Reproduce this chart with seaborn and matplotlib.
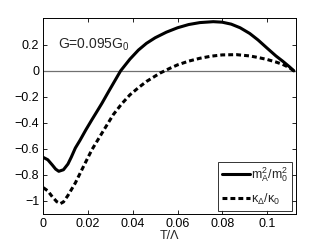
import numpy as np
import pandas as pd
import matplotlib
matplotlib.use("Agg")
import matplotlib.pyplot as plt
import seaborn as sns

# Data
t_solid = [0.000, 0.002, 0.004, 0.0055, 0.0069, 0.009, 0.011, 0.0125, 0.0143, 0.0164,
           0.0190, 0.0217, 0.0238, 0.0262, 0.0290, 0.03125, 0.03455, 0.0387, 0.0425,
           0.0461, 0.050, 0.055, 0.060, 0.065, 0.070, 0.076, 0.080, 0.084, 0.088,
           0.0923, 0.096, 0.100, 0.104, 0.107, 0.110, 0.112]
m_solid = [-0.667, -0.685, -0.725, -0.757, -0.774, -0.762, -0.718, -0.665, -0.595, -0.535,
           -0.455, -0.377, -0.318, -0.25, -0.165, -0.098, 0.0, 0.09, 0.16,
           0.212, 0.255, 0.298, 0.332, 0.357, 0.372, 0.379, 0.375, 0.36, 0.332,
           0.288, 0.238, 0.176, 0.115, 0.075, 0.032, 0.0]

t_dash = [0.000, 0.002, 0.004, 0.006, 0.0076, 0.009, 0.011, 0.0143, 0.018, 0.0217,
          0.0262, 0.03125, 0.035, 0.0387, 0.0425, 0.0461, 0.0521, 0.0566, 0.060,
          0.065, 0.070, 0.075, 0.080, 0.0863, 0.0923, 0.096, 0.100, 0.104, 0.107,
          0.110, 0.112]
k_dash = [-0.90, -0.925, -0.97, -1.008, -1.023, -1.01, -0.96, -0.864, -0.735, -0.608,
          -0.48, -0.338, -0.255, -0.185, -0.13, -0.082, -0.018, 0.02, 0.046,
          0.075, 0.097, 0.113, 0.123, 0.125, 0.115, 0.103, 0.088, 0.068, 0.05,
          0.025, 0.0]

labels = [r"$\mathregular{m_A^2/m_0^2}$", r"$\mathregular{\kappa_\Delta/\kappa_0}$"]
x_ticks = [0, 0.02, 0.04, 0.06, 0.08, 0.1]
x_ticklabels = ["0", "0.02", "0.04", "0.06", "0.08", "0.1"]
y_ticks = [-1, -0.8, -0.6, -0.4, -0.2, 0, 0.2]
y_ticklabels = ["\u22121", "\u22120.8", "\u22120.6", "\u22120.4", "\u22120.2", "0", "0.2"]

df = pd.concat([
    pd.DataFrame({"T": t_solid, "val": m_solid, "series": labels[0]}),
    pd.DataFrame({"T": t_dash, "val": k_dash, "series": labels[1]}),
], ignore_index=True)

sns.set_style("ticks")
plt.rcParams['font.family'] = ['Liberation Sans', 'DejaVu Sans']
plt.rcParams['mathtext.fontset'] = 'custom'
plt.rcParams['mathtext.rm'] = 'Liberation Sans'
plt.rcParams['mathtext.it'] = 'Liberation Sans'

fig = plt.figure(figsize=(3.27, 2.46), dpi=100)
ax = fig.add_axes([0.1325, 0.129, 0.7715, 0.7966])

ax.axhline(0, color="#707070", lw=0.9, zorder=1)

sns.lineplot(data=df, x="T", y="val", style="series", color="black",
             dashes={labels[0]: "", labels[1]: (1.6, 1.0)},
             linewidth=2.2, sort=False, estimator=None, ax=ax, legend=True)
for ln in ax.get_lines():
    ln.set_solid_joinstyle("round")
    ln.set_dash_capstyle("butt")

ax.set_xlim(0, 0.1128)
ax.set_ylim(-1.105, 0.405)
ax.set_xticks(x_ticks)
ax.set_xticklabels(x_ticklabels)
ax.set_yticks(y_ticks)
ax.set_yticklabels(y_ticklabels)
ax.tick_params(direction="in", top=True, right=True, length=3, width=0.6,
               labelsize=9, pad=3, colors="black")
for s in ax.spines.values():
    s.set_linewidth(0.7)
    s.set_color("black")
ax.set_xlabel("T/\u039b", fontsize=9, labelpad=0)
ax.set_ylabel("")

ax.text(0.06, 0.845, r"G=0.095G$\mathregular{_0}$", transform=ax.transAxes, fontsize=10)

leg = ax.legend(loc="lower right", fontsize=9, frameon=True, fancybox=False,
                edgecolor="black", handlelength=2.2, handletextpad=0.1,
                borderpad=0.3, labelspacing=0.6, borderaxespad=0.3)
leg.get_frame().set_linewidth(0.7)

fig.savefig("out.png", dpi=100)
